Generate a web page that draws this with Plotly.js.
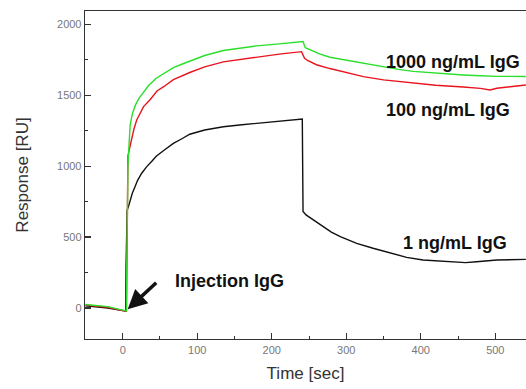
<!DOCTYPE html>
<html>
<head>
<meta charset="utf-8">
<script src="https://cdn.plot.ly/plotly-3.0.1.min.js"></script>
<style>html,body{margin:0;padding:0;background:#fff;}#chart{width:526px;height:389px;}</style>
</head>
<body>
<div id="chart"></div>
<script>
// Time [sec] and Response [RU]
const greenTime = [-50,-20,0,5,5.5,6,7,8.5,10,13,17,22,28,35,45,55,68,80,90,110,135,160,180,210,242,245,255,265,278,300,320,345,370,390,420,457,480,502,541];
const greenResp = [25,10,-15,-20,300,700,1000,1150,1290,1370,1430,1480,1525,1570,1620,1655,1695,1720,1740,1780,1815,1835,1848,1862,1878,1835,1810,1790,1768,1748,1725,1703,1682,1668,1655,1643,1637,1633,1632];

const redTime = [-50,-20,0,5,6,7,9,12,15,18.8,23,28,37,46,55,68,90,110,135,160,180,210,240,244,248,260,278,300,323,350,390,420,457,480,493,502,520,541];
const redResp = [20,5,-18,-22,500,1070,1120,1200,1260,1325,1370,1420,1470,1530,1560,1610,1660,1700,1735,1755,1770,1790,1807,1760,1745,1715,1688,1660,1631,1608,1584,1570,1558,1548,1537,1549,1560,1572];

const blackTime = [-50,-20,0,4,4.5,5,6,8,10,13,16.5,20,25.5,32,40,45,55,68,80,90,110,135,160,180,210,241,241.5,242,246,256,269,280,292,314,336,359,381,403,426,448,460,475,502,541];
const blackResp = [15,0,-18,-22,300,500,690,720,760,810,855,900,950,995,1040,1070,1110,1160,1195,1225,1255,1278,1292,1302,1316,1332,1000,680,656,620,573,535,503,456,421,386,357,338,331,322,320,326,338,343];

const seriesNames = ["1 ng/mL IgG","100 ng/mL IgG","1000 ng/mL IgG"];
const xTitle = "Time [sec]";
const yTitle = "Response [RU]";

const FONT = "Liberation Sans, Arial, sans-serif";

const traces = [
  {x: blackTime, y: blackResp, name: seriesNames[0], mode: "lines", line: {color: "#111111", width: 1.4}},
  {x: redTime, y: redResp, name: seriesNames[1], mode: "lines", line: {color: "#e8141e", width: 1.4}},
  {x: greenTime, y: greenResp, name: seriesNames[2], mode: "lines", line: {color: "#2adf2a", width: 1.4}}
];

const labelFont = {family: FONT, size: 18, color: "#111"};

const layout = {
  width: 526, height: 389,
  margin: {l: 85, r: 0, t: 11, b: 50},
  paper_bgcolor: "#fff", plot_bgcolor: "#fff",
  showlegend: false,
  font: {family: FONT},
  xaxis: {
    range: [-50.6, 541.2], showgrid: false, zeroline: false,
    showline: true, linecolor: "#333", linewidth: 1.3, mirror: true,
    ticks: "inside", ticklen: 6, tickwidth: 1.2, tickcolor: "#333",
    dtick: 100, tick0: 0,
    minor: {dtick: 50, ticks: "inside", ticklen: 3, tickwidth: 1, tickcolor: "#333"},
    tickfont: {family: FONT, size: 11, color: "#777"},
    title: {text: xTitle, font: {family: FONT, size: 17, color: "#333"}, standoff: 12}
  },
  yaxis: {
    range: [-218.5, 2093.7], showgrid: false, zeroline: false,
    showline: true, linecolor: "#333", linewidth: 1.3, mirror: false,
    ticks: "inside", ticklen: 6, tickwidth: 1.2, tickcolor: "#333",
    dtick: 500, tick0: 0,
    minor: {dtick: 250, ticks: "inside", ticklen: 3, tickwidth: 1, tickcolor: "#333"},
    tickfont: {family: FONT, size: 11, color: "#777"},
    title: {text: yTitle, font: {family: FONT, size: 17, color: "#333"}, standoff: 24}
  },
  annotations: [
    {x: 442.6, y: 1734, text: "<b>" + seriesNames[2] + "</b>", showarrow: false, xanchor: "center", yanchor: "middle", font: labelFont},
    {x: 435.9, y: 1396, text: "<b>" + seriesNames[1] + "</b>", showarrow: false, xanchor: "center", yanchor: "middle", font: labelFont},
    {x: 445.9, y: 458, text: "<b>" + seriesNames[0] + "</b>", showarrow: false, xanchor: "center", yanchor: "middle", font: labelFont},
    {x: 143.3, y: 190, text: "<b>Injection IgG</b>", showarrow: false, xanchor: "center", yanchor: "middle", font: labelFont},
    {x: 6.7, y: -9, text: "", showarrow: true, ax: 30, ay: -28, arrowhead: 2, arrowsize: 1.1, arrowwidth: 3.5, arrowcolor: "#111"}
  ]
};

Plotly.newPlot("chart", traces, layout, {staticPlot: true, displayModeBar: false});
</script>
</body>
</html>
